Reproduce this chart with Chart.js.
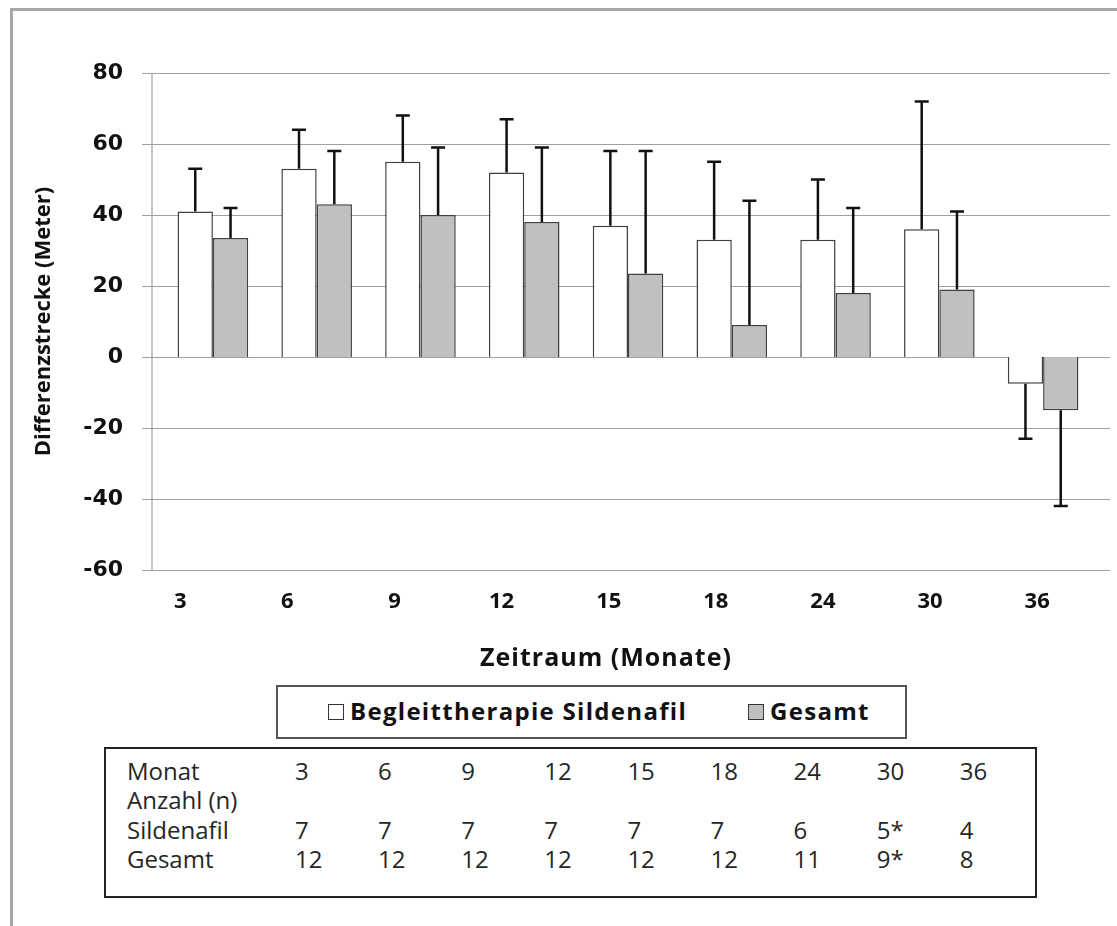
<!DOCTYPE html>
<html>
<head>
<meta charset="utf-8">
<script src="https://cdn.jsdelivr.net/npm/chart.js@4"></script>
<style>
  body { margin: 0; background: #fff; width: 1117px; height: 926px; position: relative; overflow: hidden; font-family: "Open Sans", sans-serif; }
  .frame { position: absolute; left: 10px; top: 8px; width: 1200px; height: 1000px; border-left: 3px solid #a6a6a6; border-top: 3px solid #a6a6a6; }
  #wrap { position: absolute; left: 0; top: 0; width: 1117px; height: 680px; }
  .xtitle { position: absolute; left: 406px; width: 400px; top: 638px; text-align: center; font-weight: bold; font-size: 25px; letter-spacing: 1px; line-height: 36px; color: #111; }
  .legend { position: absolute; left: 276px; top: 685px; width: 627px; height: 50px; border: 2px solid #555; font-weight: bold; font-size: 24px; letter-spacing: 1.3px; color: #111; }
  .legend .item { position: absolute; top: 7px; line-height: 34px; white-space: nowrap; }
  .legend .sw { display: inline-block; width: 14px; height: 14px; border: 1px solid #333; margin-right: 6px; vertical-align: 0px; }
  .tbl { position: absolute; left: 104px; top: 747px; width: 929px; height: 147px; border: 2px solid #222; color: #262626; font-size: 24px; }
  .tbl span { position: absolute; line-height: 29px; white-space: nowrap; }
</style>
</head>
<body>
<div class="frame"></div>
<div id="wrap"><canvas id="chart" width="1117" height="680"></canvas></div>
<div class="xtitle">Zeitraum (Monate)</div>
<div class="legend">
  <span class="item" style="left:50px"><span class="sw" style="background:#fff"></span>Begleittherapie Sildenafil</span>
  <span class="item" style="left:470px"><span class="sw" style="background:#c0c0c0"></span>Gesamt</span>
</div>
<div class="tbl" id="tbl"></div>
<script>
const months = ['3', '6', '9', '12', '15', '18', '24', '30', '36'];
const sildenafil = [41, 53, 55, 52, 37, 33, 33, 36, -7.5];
const sildenafilSD = [12, 11, 13, 15, 21, 22, 17, 36, 15.5];
const gesamt = [33.5, 43, 40, 38, 23.5, 9, 18, 19, -15];
const gesamtSD = [8.5, 15, 19, 21, 34.5, 35, 24, 22, 27];
const yTicks = [80, 60, 40, 20, 0, -20, -40, -60];

const rowLabels = ['Monat', 'Anzahl (n)', 'Sildenafil', 'Gesamt'];
const nSildenafil = ['7', '7', '7', '7', '7', '7', '6', '5*', '4'];
const nGesamt = ['12', '12', '12', '12', '12', '12', '11', '9*', '8'];

// Tabelle unter dem Diagramm
const tbl = document.getElementById('tbl');
const rows = [months, [], nSildenafil, nGesamt];
rows.forEach((vals, r) => {
  const top = 7 + r * 29.4;
  const lab = document.createElement('span');
  lab.textContent = rowLabels[r];
  lab.style.left = '21px';
  lab.style.top = top + 'px';
  tbl.appendChild(lab);
  vals.forEach((v, c) => {
    const s = document.createElement('span');
    s.textContent = v;
    s.style.left = (189 + c * 83.1) + 'px';
    s.style.top = top + 'px';
    tbl.appendChild(s);
  });
});

const errors = [sildenafilSD, gesamtSD];

const gridLines = {
  id: 'gridLines',
  beforeDatasetsDraw(chart) {
    const { ctx, chartArea, scales: { y } } = chart;
    ctx.save();
    ctx.strokeStyle = '#a0a0a0';
    ctx.lineWidth = 1.2;
    yTicks.forEach(t => {
      const py = Math.round(y.getPixelForValue(t)) + 0.5;
      ctx.beginPath();
      ctx.moveTo(chartArea.left - 19, py);
      ctx.lineTo(chartArea.right + 15, py);
      ctx.stroke();
    });
    ctx.beginPath();
    ctx.moveTo(chartArea.left - 9, y.getPixelForValue(80));
    ctx.lineTo(chartArea.left - 9, y.getPixelForValue(-60));
    ctx.stroke();
    ctx.restore();
  }
};

const errorBars = {
  id: 'errorBars',
  afterDatasetsDraw(chart) {
    const { ctx, scales: { y } } = chart;
    ctx.save();
    ctx.strokeStyle = '#111';
    ctx.lineWidth = 2.5;
    chart.data.datasets.forEach((ds, i) => {
      chart.getDatasetMeta(i).data.forEach((bar, j) => {
        const v = ds.data[j];
        const yEnd = y.getPixelForValue(v + Math.sign(v) * errors[i][j]);
        ctx.beginPath();
        ctx.moveTo(bar.x, bar.y);
        ctx.lineTo(bar.x, yEnd);
        ctx.moveTo(bar.x - 7, yEnd);
        ctx.lineTo(bar.x + 7, yEnd);
        ctx.stroke();
      });
    });
    ctx.restore();
  }
};

new Chart(document.getElementById('chart'), {
  type: 'bar',
  data: {
    labels: months,
    datasets: [
      { label: 'Begleittherapie Sildenafil', data: sildenafil, backgroundColor: '#ffffff', borderColor: '#404040', borderWidth: 1.5 },
      { label: 'Gesamt', data: gesamt, backgroundColor: '#c0c0c0', borderColor: '#404040', borderWidth: 1.5 },
    ],
  },
  options: {
    responsive: false,
    animation: false,
    devicePixelRatio: 1,
    layout: { padding: { top: 73, right: 22, left: 0, bottom: 0 } },
    categoryPercentage: 0.68,
    barPercentage: 1.0,
    plugins: { legend: { display: false }, tooltip: { enabled: false } },
    scales: {
      x: { display: false },
      // Beschriftungsachse: in Excel sitzen die Monatszahlen etwas links der Balken
      xLabels: {
        type: 'linear',
        position: 'bottom',
        offset: false,
        min: -0.18,
        max: 8.54,
        grid: { display: false, drawTicks: false, offset: false },
        border: { display: false },
        ticks: {
          stepSize: 1,
          includeBounds: false,
          autoSkip: false,
          maxRotation: 0,
          color: '#111',
          font: { family: 'Open Sans', weight: 'bold', size: 22 },
          padding: 19,
          callback: v => (Number.isInteger(v) ? months[v] : ''),
        },
        afterFit: s => { s.height = 110; },
      },
      y: {
        min: -60,
        max: 80,
        grid: { display: false, drawTicks: false },
        border: { display: false },
        ticks: { stepSize: 20, color: '#111', font: { family: 'DejaVu Sans', weight: 'bold', size: 22 }, padding: 38 },
        title: { display: true, text: 'Differenzstrecke (Meter)', color: '#111', font: { family: 'Open Sans', weight: 'bold', size: 22 }, padding: { top: 31 } },
        afterFit: s => { s.width = 161; },
      },
    },
  },
  plugins: [gridLines, errorBars],
});
</script>
</body>
</html>
